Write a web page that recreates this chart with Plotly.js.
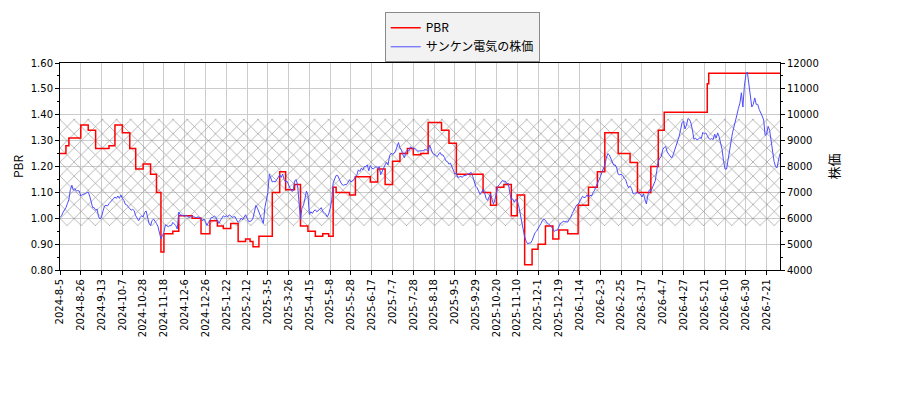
<!DOCTYPE html>
<html>
<head>
<meta charset="utf-8">
<script src="https://cdn.plot.ly/plotly-3.0.1.min.js"></script>
<style>body{margin:0;background:#fff}</style>
</head>
<body>
<div id="chart" style="width:900px;height:400px"></div>
<script>
// trading calendar: weekdays between these two days, minus market holidays
const firstDay = [2024, 8, 5];
const lastDay = [2026, 8, 3];
const holidays = ['2024-8-12','2024-9-16','2024-9-23','2024-10-14','2024-11-4','2024-12-31',
  '2025-1-1','2025-1-2','2025-1-3','2025-1-13','2025-2-11','2025-2-24','2025-3-20','2025-4-29',
  '2025-5-5','2025-5-6','2025-7-21','2025-8-11','2025-9-15','2025-9-23','2025-10-13','2025-11-3',
  '2025-11-24','2025-12-31','2026-1-1','2026-1-2','2026-1-12','2026-2-11','2026-2-23','2026-3-20',
  '2026-4-29','2026-5-4','2026-5-5','2026-5-6','2026-7-20'];

const tickLabels = ['2024-8-5','2024-8-26','2024-9-13','2024-10-7','2024-10-28','2024-11-18',
  '2024-12-6','2024-12-26','2025-1-22','2025-2-12','2025-3-5','2025-3-26','2025-4-15','2025-5-8',
  '2025-5-28','2025-6-17','2025-7-7','2025-7-28','2025-8-18','2025-9-5','2025-9-29','2025-10-20',
  '2025-11-10','2025-12-1','2025-12-19','2026-1-14','2026-2-3','2026-2-25','2026-3-17','2026-4-7',
  '2026-4-27','2026-5-21','2026-6-10','2026-6-30','2026-7-21'];

// PBR only moves on these days (step line)
const pbrDates = ['2024-8-5','2024-8-9','2024-8-14','2024-8-26','2024-9-2','2024-9-9','2024-9-24',
  '2024-9-30','2024-10-7','2024-10-15','2024-10-21','2024-10-28','2024-11-5','2024-11-11',
  '2024-11-14','2024-11-18','2024-11-26','2024-12-2','2024-12-13','2024-12-23','2025-1-6',
  '2025-1-14','2025-1-20','2025-1-27','2025-2-3','2025-2-10','2025-2-14','2025-2-18','2025-2-25',
  '2025-3-10','2025-3-17','2025-3-24','2025-4-1','2025-4-7','2025-4-14','2025-4-21','2025-4-28',
  '2025-5-7','2025-5-12','2025-5-14','2025-5-27','2025-6-2','2025-6-16','2025-6-23','2025-6-30',
  '2025-7-7','2025-7-14','2025-7-22','2025-7-28','2025-8-4','2025-8-12','2025-8-25','2025-9-1',
  '2025-9-8','2025-10-6','2025-10-14','2025-10-20','2025-10-27','2025-11-4','2025-11-10',
  '2025-11-17','2025-11-25','2025-12-1','2025-12-8','2025-12-15','2025-12-19','2025-12-29',
  '2026-1-13','2026-1-22','2026-1-30','2026-2-6','2026-2-20','2026-3-5','2026-3-12','2026-3-26',
  '2026-4-2','2026-4-8','2026-5-25','2026-5-26','2026-8-3'];
const pbrValues = [1.25,1.28,1.31,1.36,1.34,1.27,1.28,1.36,1.33,1.27,1.19,1.21,1.17,1.10,0.87,
  0.94,0.95,1.01,1.00,0.94,0.99,0.97,0.96,0.98,0.91,0.92,0.91,0.89,0.93,1.10,1.18,1.11,1.13,
  0.97,0.95,0.93,0.94,0.93,1.12,1.10,1.09,1.16,1.14,1.19,1.13,1.22,1.25,1.27,1.245,1.25,1.37,
  1.34,1.29,1.17,1.10,1.05,1.12,1.13,1.01,1.09,0.82,0.88,0.90,0.97,0.92,0.955,0.94,1.05,1.12,
  1.18,1.33,1.25,1.215,1.10,1.20,1.34,1.41,1.52,1.56,1.56];

// daily close, one per trading day
const price = [
  6030,6095,6220,6310,6410,6565,6730,7110,7275,7085,7150,7050,7070,7050,
  6860,6920,6920,6945,6985,7010,6860,6600,6410,6410,6310,6350,6055,5970,
  6055,6285,6475,6500,6475,6565,6640,6690,6770,6820,6770,6860,6770,6895,
  6770,6690,6540,6515,6440,6350,6310,6350,6285,6095,5970,5905,6030,6095,
  6055,6220,6285,6055,5800,5715,5905,5970,5905,5800,5675,5395,5205,5330,
  5460,5750,5715,5675,5715,5715,5840,5775,5715,5585,6240,6135,6120,6095,
  6080,6120,6055,6030,6055,6095,6070,6030,6030,6055,6030,6005,5905,5970,
  5865,5715,5840,5970,6030,6030,6095,6030,5905,5800,5905,6005,6095,6055,
  6095,6055,6135,6095,6030,6055,6055,5930,5840,5905,6005,5940,6030,6135,
  6005,5880,5880,5905,6005,6310,6500,6385,6220,6055,5880,5800,6410,6730,
  6985,7705,7580,7400,7430,7400,7490,7580,7680,7580,7705,7490,7400,7430,
  7275,7150,7050,7050,7430,7500,7300,6700,5950,6400,6500,6750,7050,6900,
  6150,6250,6185,6285,6325,6250,6285,6350,6410,6260,6220,6160,6055,6160,
  6385,6665,7365,7555,7655,7655,7490,7400,7300,7275,7300,7300,7390,7490,
  7400,7430,7490,7620,7680,7870,7810,7935,7870,8000,8000,8065,7835,8040,
  7935,7910,7960,8000,7935,8000,7680,7835,7975,8065,8165,8065,8420,8510,
  8470,8510,8595,8725,8925,8725,8635,8445,8340,8570,8635,8595,8760,8725,
  8675,8700,8635,8595,8600,8595,8610,8620,8660,8635,8595,8825,8700,8510,
  8470,8445,8380,8470,8545,8445,8445,8340,8215,8190,8090,8130,8000,7810,
  7710,7745,7580,7595,7620,7580,7655,7645,7680,7710,7745,7770,7620,7430,
  7240,7175,7070,6920,7010,7110,6985,6770,6690,6855,6945,6730,6540,6730,
  7050,7240,7300,7390,7455,7430,7430,7330,7350,6985,6710,6750,6620,6730,
  6680,6475,6200,5840,5520,5270,5115,5015,5040,5040,5140,5330,5445,5500,
  5600,5650,5800,5920,5960,5920,5820,5790,5730,5680,5600,5490,5540,5530,
  5650,5800,5820,5890,5870,5860,5850,5950,6030,6180,6300,6440,6510,6540,
  6650,6780,6850,6800,6810,6900,6820,6890,6860,6980,7070,7220,7340,7470,
  7600,7780,7890,8050,8320,8500,8450,8300,8130,8050,8060,7940,7700,7680,
  7700,7660,7550,7500,7310,7175,7240,7150,6950,6945,6985,7000,6960,6930,
  6820,6940,6730,6550,6900,7100,7050,7200,7350,7450,7850,8200,8320,8390,
  8650,8740,8770,8560,8480,8400,8330,8450,8620,8760,8900,9150,9400,9700,
  9750,9450,9600,9850,9820,9680,9420,9050,9100,9030,9050,9120,9080,9320,
  9260,9300,9200,9080,9050,9080,9040,9250,9100,9300,9150,8900,8650,8200,
  7900,7900,8200,8600,8950,9300,9500,9750,10000,10250,10450,10850,10300,11100,
  11550,11650,11150,10850,10300,10400,10650,10400,10400,10200,10100,9950,9800,9200,
  9250,9550,9400,9000,8600,8200,8000,7950,8250,8500];

// hatched PBR band
const bandLow = 0.97, bandHigh = 1.385;

function tradingDays() {
  let out = [];
  let d = new Date(Date.UTC(firstDay[0], firstDay[1] - 1, firstDay[2]));
  let end = new Date(Date.UTC(lastDay[0], lastDay[1] - 1, lastDay[2]));
  while (d <= end) {
    let s = d.getUTCFullYear() + '-' + (d.getUTCMonth() + 1) + '-' + d.getUTCDate();
    let wd = d.getUTCDay();
    if (wd != 0 && wd != 6 && holidays.indexOf(s) < 0) out.push(s);
    d.setUTCDate(d.getUTCDate() + 1);
  }
  return out;
}
let dates = tradingDays();
let last = dates[dates.length - 1];

let jp = 'Noto Sans CJK JP';

let traces = [
  {
    x: [dates[0], last, last, dates[0]], y: [bandHigh, bandHigh, bandLow, bandLow],
    type: 'scatter', mode: 'lines', fill: 'toself', line: {width: 0},
    fillcolor: 'rgba(0,0,0,0)',
    fillpattern: {shape: 'x', size: 10, solidity: 0.12, fgcolor: '#8c8c8c', bgcolor: 'rgba(0,0,0,0)'},
    showlegend: false, hoverinfo: 'skip'
  },
  {
    x: pbrDates, y: pbrValues, name: 'PBR', type: 'scatter', mode: 'lines',
    line: {color: '#ff0000', width: 1.5, shape: 'hv'}
  },
  {
    x: dates, y: price, name: 'サンケン電気の株価', type: 'scatter', mode: 'lines',
    yaxis: 'y2', line: {color: '#4d4dff', width: 1}
  }
];

let layout = {
  width: 900, height: 400,
  margin: {l: 60, r: 120, t: 60, b: 130},
  paper_bgcolor: '#ffffff', plot_bgcolor: '#ffffff',
  font: {family: 'DejaVu Sans', size: 10, color: '#000'},
  showlegend: true,
  legend: {x: 0.451, xanchor: 'left', y: 1.245, yanchor: 'top', bgcolor: '#f2f2f2',
    bordercolor: '#8a8a8a', borderwidth: 1, font: {family: jp, size: 12}, tracegroupgap: 0},
  xaxis: {
    type: 'category', categoryorder: 'array', categoryarray: dates,
    range: [0, dates.length - 1],
    tickmode: 'array', tickvals: tickLabels, ticktext: tickLabels, tickangle: -90,
    ticks: 'outside', ticklen: 4, tickcolor: '#000',
    showgrid: true, gridcolor: '#cccccc', gridwidth: 1,
    showline: true, linecolor: '#000', linewidth: 1, mirror: true, zeroline: false
  },
  yaxis: {
    range: [0.8, 1.6], tick0: 0.8, dtick: 0.1, tickformat: '.2f',
    ticks: 'outside', ticklen: 4, tickcolor: '#000',
    minor: {dtick: 0.05, ticks: 'outside', ticklen: 2, tickcolor: '#000', showgrid: false},
    showgrid: true, gridcolor: '#cccccc', gridwidth: 1,
    showline: true, linecolor: '#000', linewidth: 1, zeroline: false,
    title: {text: 'PBR', font: {family: jp, size: 12}, standoff: 4}
  },
  yaxis2: {
    overlaying: 'y', side: 'right', range: [4000, 12000], tick0: 4000, dtick: 1000,
    tickformat: 'd',
    ticks: 'outside', ticklen: 4, tickcolor: '#000',
    minor: {dtick: 500, ticks: 'outside', ticklen: 2, tickcolor: '#000', showgrid: false},
    showgrid: false, showline: true, linecolor: '#000', linewidth: 1, zeroline: false,
    title: {text: '株価', font: {family: jp, size: 13}, standoff: 12}
  }
};

Plotly.newPlot('chart', traces, layout, {displayModeBar: false, staticPlot: true});
</script>
</body>
</html>
